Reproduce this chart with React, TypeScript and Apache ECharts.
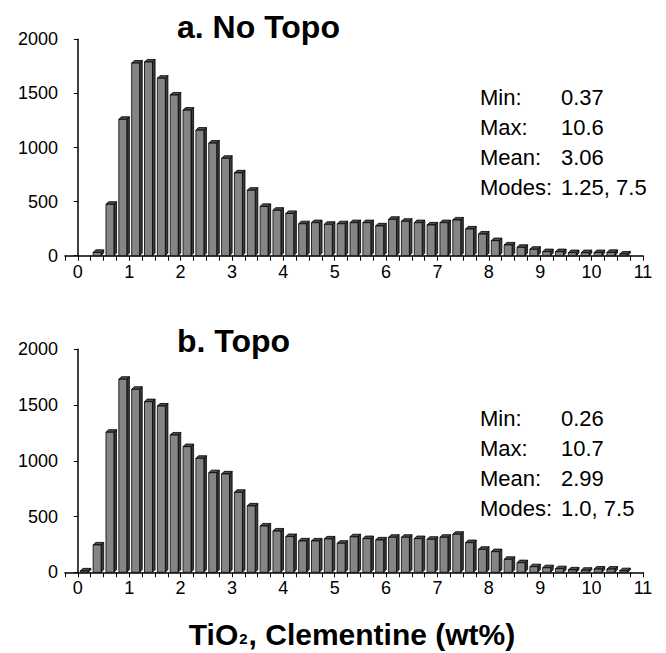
import React, { useEffect, useRef } from "react";
import * as echarts from "echarts";

// Bin starts (wt% TiO2), each bin 0.25 wide
const binStarts = [
  0, 0.25, 0.5, 0.75, 1, 1.25, 1.5, 1.75, 2, 2.25, 2.5, 2.75, 3, 3.25, 3.5, 3.75,
  4, 4.25, 4.5, 4.75, 5, 5.25, 5.5, 5.75, 6, 6.25, 6.5, 6.75, 7, 7.25, 7.5, 7.75,
  8, 8.25, 8.5, 8.75, 9, 9.25, 9.5, 9.75, 10, 10.25, 10.5, 10.75,
];

// a. No Topo counts
const noTopoCounts = [
  0, 30, 475, 1260, 1780, 1790, 1640, 1485, 1345, 1160, 1040, 900, 765, 605, 455, 420,
  390, 295, 305, 290, 295, 305, 305, 275, 336, 318, 305, 284, 305, 330, 247, 200,
  139, 99, 77, 59, 37, 37, 28, 28, 28, 30, 15, 0,
];

// b. Topo counts
const topoCounts = [
  12, 245, 1256, 1731, 1641, 1530, 1491, 1231, 1127, 1022, 893, 882, 717, 595, 415, 370,
  320, 281, 281, 299, 260, 318, 302, 290, 314, 314, 302, 296, 314, 341, 266, 206,
  185, 116, 86, 50, 41, 32, 21, 18, 28, 28, 14, 0,
];

const statLabels = ["Min:", "Max:", "Mean:", "Modes:"];
const noTopoStats = ["0.37", "10.6", "3.06", "1.25, 7.5"];
const topoStats = ["0.26", "10.7", "2.99", "1.0, 7.5"];

const BIN = 0.25;
const FONT = "'Liberation Sans', Arial, Helvetica, sans-serif";

function renderBar(params: any, api: any) {
  const x0 = api.value(0);
  const v = api.value(1);
  if (!(v > 0)) return { type: "group", children: [] };
  const p0 = api.coord([x0, 0]);
  const p1 = api.coord([x0 + BIN, v]);
  const bw = p1[0] - p0[0];
  const l = p0[0] + bw * 0.19;
  const r = p0[0] + bw * 0.81;
  const yb = p0[1];
  const yt = p1[1];
  const d = 2.6;
  const stroke = { stroke: "#000", lineWidth: 0.8 };
  return {
    type: "group",
    children: [
      {
        type: "polygon",
        shape: { points: [[r, yt], [r + d, yt - d], [r + d, yb - d], [r, yb]] },
        style: { fill: "#3a3a3a", ...stroke },
      },
      {
        type: "polygon",
        shape: { points: [[l, yt], [l + d, yt - d], [r + d, yt - d], [r, yt]] },
        style: { fill: "#4d4d4d", ...stroke },
      },
      {
        type: "rect",
        shape: { x: l, y: yt, width: r - l, height: yb - yt },
        style: { fill: "#858585", ...stroke },
      },
    ],
  };
}

function statTexts(rowY0: number) {
  return statLabels.map((lab, i) => ({
    type: "text",
    x: 480,
    y: rowY0 + i * 30.3,
    style: { text: lab, fontSize: 22, fontFamily: FONT, fill: "#000", textVerticalAlign: "middle" },
  }));
}

function statValues(rowY0: number, vals: string[]) {
  return vals.map((t, i) => ({
    type: "text",
    x: 561,
    y: rowY0 + i * 30.3,
    style: { text: t, fontSize: 22, fontFamily: FONT, fill: "#000", textVerticalAlign: "middle" },
  }));
}

export default function App() {
  const ref = useRef<HTMLDivElement>(null);
  useEffect(() => {
    if (!ref.current) return;
    const chart = echarts.init(ref.current, null, { renderer: "svg" });
    const xAxisBase = (gi: number) => ({
      type: "value",
      gridIndex: gi,
      min: -0.25,
      max: 11,
      interval: 0.25,
      axisLine: { show: true, onZero: false, lineStyle: { color: "#000", width: 1.5 } },
      axisTick: { show: true, length: 5, lineStyle: { color: "#000", width: 1 } },
      axisLabel: {
        formatter: (v: number) => (Math.abs(v - Math.round(v)) < 1e-9 ? String(Math.round(v)) : ""),
        fontSize: 18,
        color: "#000",
        margin: 7,
        fontFamily: FONT,
      },
      splitLine: { show: false },
    });
    const yAxisBase = (gi: number) => ({
      type: "value",
      gridIndex: gi,
      min: 0,
      max: 2000,
      interval: 500,
      axisLine: { show: true, lineStyle: { color: "#000", width: 1.5 } },
      axisTick: { show: true, length: 4, lineStyle: { color: "#000", width: 1 } },
      axisLabel: {
        formatter: (v: number) => String(v),
        fontSize: 18,
        color: "#000",
        margin: 7,
        fontFamily: FONT,
      },
      splitLine: { show: false },
    });
    const option: any = {
      animation: false,
      grid: [
        { left: 65, right: 23, top: 39.3, height: 216.4 },
        { left: 65, right: 23, top: 349.3, height: 223 },
      ],
      xAxis: [xAxisBase(0), xAxisBase(1)],
      yAxis: [yAxisBase(0), yAxisBase(1)],
      series: [
        {
          type: "custom",
          xAxisIndex: 0,
          yAxisIndex: 0,
          renderItem: renderBar,
          encode: { x: 0, y: 1 },
          data: binStarts.map((b, i) => [b, noTopoCounts[i]]),
        },
        {
          type: "custom",
          xAxisIndex: 1,
          yAxisIndex: 1,
          renderItem: renderBar,
          encode: { x: 0, y: 1 },
          data: binStarts.map((b, i) => [b, topoCounts[i]]),
        },
      ],
      graphic: [
        {
          type: "text",
          x: 177,
          y: 27,
          style: {
            text: "a. No Topo",
            fontSize: 32,
            fontWeight: "bold",
            fontFamily: FONT,
            fill: "#000",
            textVerticalAlign: "middle",
          },
        },
        {
          type: "text",
          x: 177,
          y: 341,
          style: {
            text: "b. Topo",
            fontSize: 32,
            fontWeight: "bold",
            fontFamily: FONT,
            fill: "#000",
            textVerticalAlign: "middle",
          },
        },
        {
          type: "text",
          x: 352,
          y: 634,
          style: {
            text: "{a|TiO}{s|2}{a|, Clementine (wt%)}",
            textAlign: "center",
            textVerticalAlign: "middle",
            fill: "#000",
            rich: {
              a: { fontSize: 30, fontWeight: "bold", fontFamily: FONT, fill: "#000" },
              s: { fontSize: 15, fontWeight: "bold", fontFamily: FONT, fill: "#000", verticalAlign: "bottom", padding: [0, 1, 3, 1] },
            },
          },
        },
        ...statTexts(97),
        ...statValues(97, noTopoStats),
        ...statTexts(418),
        ...statValues(418, topoStats),
      ],
    };
    chart.setOption(option);
    return () => chart.dispose();
  }, []);
  return (
    <div
      ref={ref}
      style={{ position: "fixed", left: 0, top: 0, width: 666, height: 653, background: "#fff" }}
    />
  );
}
